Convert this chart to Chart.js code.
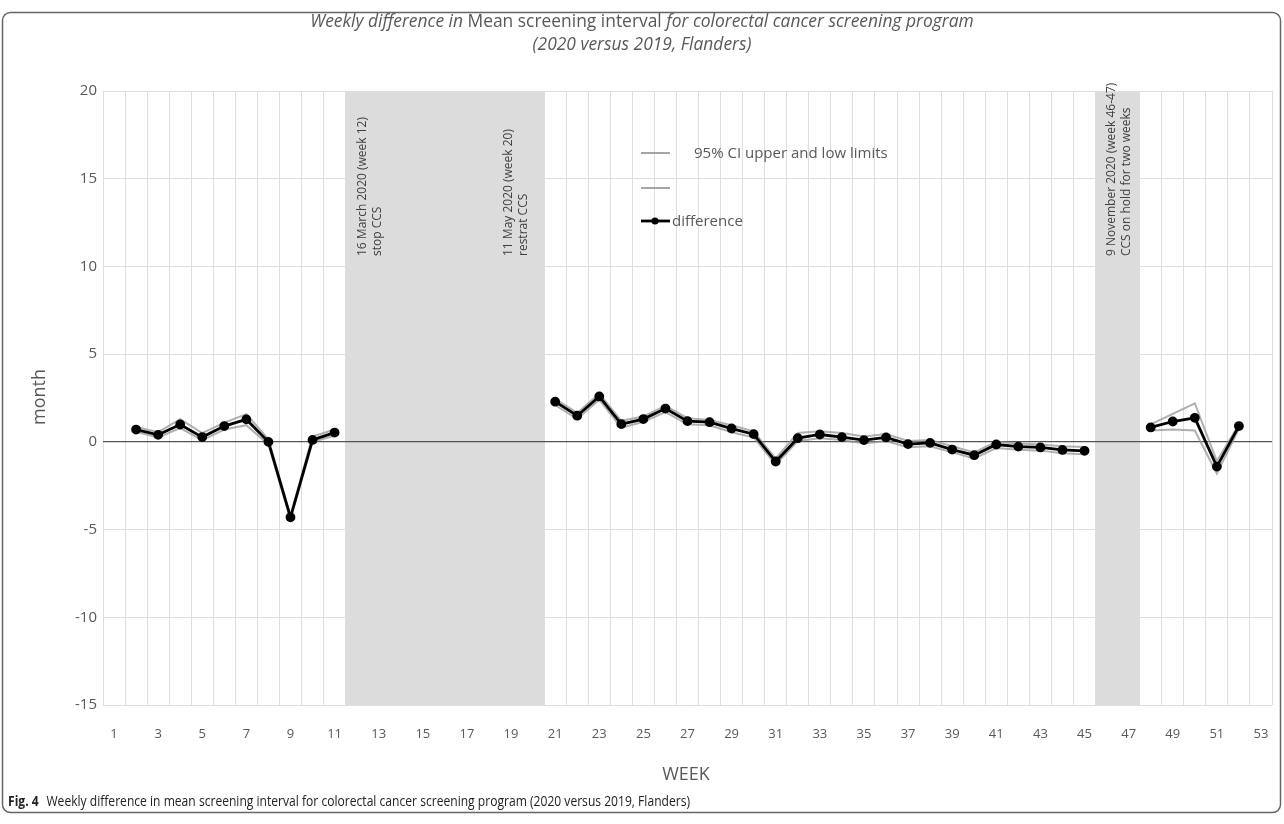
<!DOCTYPE html>
<html>
<head>
<meta charset="utf-8">
<script src="https://cdn.jsdelivr.net/npm/chart.js@4.4.1/dist/chart.umd.min.js"></script>
<style>
  html, body { margin: 0; padding: 0; background: #fff; }
  #wrap { width: 1284px; height: 824px; position: relative; }
</style>
</head>
<body>
<div id="wrap"><canvas id="c" width="1284" height="824"></canvas></div>
<script>
// ---- data ----
const weeks = Array.from({length: 53}, (_, i) => String(i + 1));
const difference = [
  null, 0.70, 0.40, 0.99, 0.27, 0.90, 1.28, 0.00, -4.30, 0.11, 0.53,
  null, null, null, null, null, null, null, null, null,
  2.29, 1.49, 2.59, 1.01, 1.30, 1.90, 1.18, 1.12, 0.76, 0.44,
  -1.12, 0.21, 0.42, 0.27, 0.10, 0.25, -0.13, -0.06, -0.44, -0.76,
  -0.15, -0.27, -0.32, -0.46, -0.51,
  null, null,
  0.82, 1.16, 1.37, -1.41, 0.90,
  null
];
const ciUpper = [
  null, 0.85, 0.55, 1.30, 0.50, 1.10, 1.58, 0.15, -4.20, 0.30, 0.70,
  null, null, null, null, null, null, null, null, null,
  2.45, 1.65, 2.75, 1.20, 1.45, 2.05, 1.35, 1.25, 0.95, 0.60,
  -0.95, 0.50, 0.60, 0.50, 0.30, 0.45, 0.05, 0.10, -0.25, -0.60,
  0.00, -0.10, -0.15, -0.25, -0.30,
  null, null,
  1.00, 1.60, 2.20, -1.10, 1.00,
  null
];
const ciLower = [
  null, 0.58, 0.25, 0.78, 0.10, 0.70, 0.95, -0.15, -4.40, 0.00, 0.35,
  null, null, null, null, null, null, null, null, null,
  2.10, 1.30, 2.40, 0.80, 1.15, 1.70, 1.00, 0.95, 0.55, 0.25,
  -1.30, 0.05, 0.20, 0.10, -0.10, 0.05, -0.30, -0.25, -0.60, -0.95,
  -0.35, -0.45, -0.50, -0.65, -0.70,
  null, null,
  0.65, 0.70, 0.65, -1.80, 0.75,
  null
];
const shadedPeriods = [ { from: 12, to: 20 }, { from: 46, to: 47 } ];
const annotations = [
  { week: 12, lines: ["16 March 2020 (week 12)", "stop CCS"], dx: 6 },
  { week: 19, lines: ["11 May 2020 (week 20)", "restrat CCS"], dx: -2 },
  { week: 46, lines: ["9 November 2020 (week 46-47)", "CCS on hold for two weeks"], dx: 5 }
];
const yTicks = [-15, -10, -5, 0, 5, 10, 15, 20];
const titleLine1 = [
  { t: "Weekly difference in ", italic: true },
  { t: "Mean screening interval ", italic: false },
  { t: "for colorectal cancer screening program", italic: true }
];
const titleLine2 = "(2020 versus 2019, Flanders)";
const legendLabels = ["95% CI upper and low limits", "", "difference"];
const yAxisTitle = "month";
const xAxisTitle = "WEEK";
const captionBold = "Fig. 4";
const captionText = "Weekly difference in mean screening interval for colorectal cancer screening program (2020 versus 2019, Flanders)";

const FONT = "'Open Sans', 'Noto Sans', sans-serif";
const GRAY_TXT = '#595959';

const decor = {
  id: 'decor',
  beforeDraw(chart) {
    const ctx = chart.ctx, a = chart.chartArea, x = chart.scales.x;
    const step = x.getPixelForValue(1) - x.getPixelForValue(0);
    ctx.save();
    ctx.fillStyle = '#fff';
    ctx.fillRect(0, 0, chart.width, chart.height);
    ctx.fillStyle = '#dcdcdc';
    shadedPeriods.forEach(p => {
      const x0 = x.getPixelForValue(p.from - 1) - step / 2;
      const x1 = x.getPixelForValue(p.to - 1) + step / 2;
      ctx.fillRect(x0, a.top, x1 - x0, a.bottom - a.top);
    });
    ctx.restore();
  },
  afterDatasetsDraw(chart) {
    const ctx = chart.ctx, x = chart.scales.x;
    ctx.save();
    // annotations (rotated)
    ctx.fillStyle = '#404040';
    ctx.font = "12px " + FONT;
    ctx.textBaseline = 'middle';
    ctx.textAlign = 'left';
    annotations.forEach(p => {
      const xc = x.getPixelForValue(p.week - 1) + p.dx;
      p.lines.forEach((ln, i) => {
        ctx.save();
        ctx.translate(xc + i * 15, 256);
        ctx.rotate(-Math.PI / 2);
        ctx.fillText(ln, 0, 0);
        ctx.restore();
      });
    });
    // legend
    ctx.lineWidth = 2;
    ctx.strokeStyle = '#a6a6a6';
    ctx.beginPath(); ctx.moveTo(641, 153); ctx.lineTo(670, 153); ctx.stroke();
    ctx.beginPath(); ctx.moveTo(641, 188); ctx.lineTo(670, 188); ctx.stroke();
    ctx.strokeStyle = '#000'; ctx.lineWidth = 2.8;
    ctx.beginPath(); ctx.moveTo(641, 221); ctx.lineTo(670, 221); ctx.stroke();
    ctx.fillStyle = '#000';
    ctx.beginPath(); ctx.arc(655, 221, 3.5, 0, Math.PI * 2); ctx.fill();
    ctx.fillStyle = GRAY_TXT;
    ctx.font = "15px " + FONT;
    ctx.textBaseline = 'middle';
    ctx.fillText(legendLabels[0], 694, 154);
    ctx.fillText(legendLabels[1], 694, 189);
    ctx.fillText(legendLabels[2], 672, 222);

    // title (fitted to reference width)
    ctx.fillStyle = GRAY_TXT;
    ctx.textBaseline = 'alphabetic';
    const measure = size => titleLine1.reduce((w, s) => {
      ctx.font = (s.italic ? 'italic ' : '') + size + 'px ' + FONT;
      return w + ctx.measureText(s.t).width;
    }, 0);
    const tsize = 14 * 664 / measure(14);
    const total = measure(tsize);
    let tx = 642 - total / 2;
    titleLine1.forEach(s => {
      ctx.font = (s.italic ? 'italic ' : '') + tsize + 'px ' + FONT;
      ctx.textAlign = 'left';
      ctx.fillText(s.t, tx, 27);
      tx += ctx.measureText(s.t).width;
    });
    ctx.font = 'italic ' + tsize + 'px ' + FONT;
    ctx.textAlign = 'center';
    ctx.fillText(titleLine2, 642, 50);

    // axis titles
    ctx.font = "18px " + FONT;
    ctx.fillStyle = GRAY_TXT;
    ctx.textAlign = 'center';
    ctx.textBaseline = 'middle';
    ctx.save();
    ctx.translate(40, 397);
    ctx.rotate(-Math.PI / 2);
    ctx.fillText(yAxisTitle, 0, 0);
    ctx.restore();
    ctx.fillText(xAxisTitle, 686, 775);

    // caption (condensed to reference width)
    ctx.textAlign = 'left';
    ctx.textBaseline = 'alphabetic';
    ctx.fillStyle = '#222';
    ctx.font = "bold 14px " + FONT;
    const bw = ctx.measureText(captionBold).width;
    ctx.font = "14px " + FONT;
    const cw = ctx.measureText(captionText).width;
    const sx = 682 / (bw + 9 + cw);
    ctx.save();
    ctx.translate(8, 806);
    ctx.scale(sx, 1);
    ctx.font = "bold 14px " + FONT;
    ctx.fillText(captionBold, 0, 0);
    ctx.font = "14px " + FONT;
    ctx.fillText(captionText, bw + 9, 0);
    ctx.restore();

    // border
    ctx.strokeStyle = '#666';
    ctx.lineWidth = 1.5;
    ctx.beginPath();
    ctx.roundRect(2.5, 12.5, 1278, 800, 8);
    ctx.stroke();
    ctx.restore();
  }
};

new Chart(document.getElementById('c'), {
  type: 'line',
  data: {
    labels: weeks,
    datasets: [
      { label: 'difference', data: difference, borderColor: '#000', backgroundColor: '#000',
        borderWidth: 2.8, pointRadius: 3.5, pointHoverRadius: 3.5, tension: 0, order: 0, spanGaps: false },
      { label: '95% CI upper', data: ciUpper, borderColor: 'rgba(150,150,150,0.75)',
        borderWidth: 2, pointRadius: 0, tension: 0, order: 1, spanGaps: false },
      { label: '95% CI lower', data: ciLower, borderColor: 'rgba(150,150,150,0.75)',
        borderWidth: 2, pointRadius: 0, tension: 0, order: 2, spanGaps: false }
    ]
  },
  options: {
    responsive: false,
    animation: false,
    events: [],
    layout: { padding: { top: 91, right: 12, left: 0, bottom: 0 } },
    plugins: { legend: { display: false }, title: { display: false }, tooltip: { enabled: false } },
    scales: {
      x: {
        offset: true,
        grid: { offset: true, color: '#dedede', lineWidth: 1, drawTicks: false },
        border: { display: false },
        ticks: {
          autoSkip: false, maxRotation: 0, minRotation: 0, padding: 21,
          color: GRAY_TXT, font: { family: FONT, size: 13 },
          callback: function(v, i) { return i % 2 === 0 ? weeks[i] : ''; }
        },
        afterFit(s) { s.height = 119; s.paddingLeft = 0; s.paddingRight = 0; }
      },
      y: {
        min: -15, max: 20,
        afterBuildTicks(s) { s.ticks = yTicks.map(v => ({ value: v })); },
        grid: {
          color: ctx => ctx.tick && ctx.tick.value === 0 ? '#555' : '#dedede',
          lineWidth: ctx => ctx.tick && ctx.tick.value === 0 ? 1.2 : 1,
          drawTicks: false
        },
        border: { display: false },
        ticks: { padding: 6, color: GRAY_TXT, font: { family: FONT, size: 15 } },
        afterFit(s) { s.width = 103; s.paddingTop = 0; s.paddingBottom = 0; }
      }
    }
  },
  plugins: [decor]
});
</script>
</body>
</html>
